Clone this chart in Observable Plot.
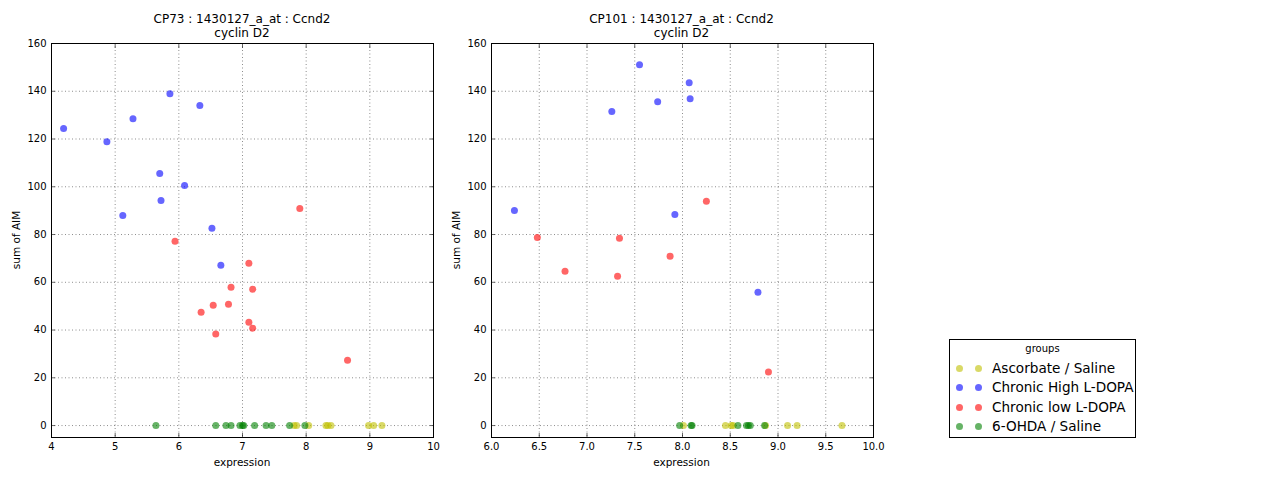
<!DOCTYPE html>
<html><head><meta charset="utf-8">
<script src="https://cdn.jsdelivr.net/npm/d3@7"></script>
<script src="https://cdn.jsdelivr.net/npm/@observablehq/plot@0.6"></script>
<style>
body{margin:0;background:#fff;font-family:"DejaVu Sans",sans-serif;color:#000;}
#root{position:relative;width:1280px;height:480px;overflow:hidden;background:#fff;}
.abs{position:absolute;white-space:nowrap;}
.title{font-size:12px;text-align:center;line-height:14px;width:400px;}
.lab{font-size:10.5px;text-align:center;width:120px;line-height:14px;}
.legend{border:1px solid #000;background:#fff;}
.legend .ttl{font-size:10px;}
.legend .item{font-size:13.6px;line-height:17px;}
.mk{position:absolute;width:7px;height:7px;border-radius:50%;}
</style></head><body><div id="root"></div>
<script>
const groups = ["Ascorbate / Saline", "Chronic High L-DOPA", "Chronic low L-DOPA", "6-OHDA / Saline"];
const groupColors = ["#bfbf00", "#0000ff", "#ff0000", "#008000"];

// CP73 panel
const cp73AscX = [7.81, 7.85, 8.04, 8.31, 8.34, 8.39, 8.98, 9.06, 9.19];
const cp73AscY = [0, 0, 0, 0, 0, 0, 0, 0, 0];
const cp73HighX = [4.19, 4.87, 5.12, 5.28, 5.70, 5.72, 5.86, 6.09, 6.33, 6.52, 6.66];
const cp73HighY = [124.4, 118.9, 88.0, 128.5, 105.6, 94.3, 139.0, 100.5, 134.0, 82.6, 67.1];
const cp73LowX = [5.94, 6.35, 6.54, 6.58, 6.78, 6.82, 7.10, 7.10, 7.16, 7.16, 7.90, 8.65];
const cp73LowY = [77.2, 47.5, 50.4, 38.3, 50.8, 57.9, 68.0, 43.3, 57.1, 40.8, 90.9, 27.4];
const cp73OhdaX = [5.64, 6.58, 6.74, 6.82, 6.96, 7.00, 7.02, 7.19, 7.37, 7.46, 7.74, 7.98];
const cp73OhdaY = [0, 0, 0, 0, 0, 0, 0, 0, 0, 0, 0, 0];

// CP101 panel
const cp101AscX = [8.01, 8.45, 8.51, 8.53, 8.87, 9.10, 9.20, 9.67];
const cp101AscY = [0, 0, 0, 0, 0, 0, 0, 0];
const cp101HighX = [6.24, 7.26, 7.55, 7.74, 7.92, 8.07, 8.08, 8.79];
const cp101HighY = [90.1, 131.5, 151.1, 135.6, 88.4, 143.6, 136.9, 55.8];
const cp101LowX = [6.48, 6.77, 7.32, 7.34, 7.87, 8.25, 8.90];
const cp101LowY = [78.8, 64.6, 62.5, 78.4, 70.9, 93.9, 22.4];
const cp101OhdaX = [7.97, 8.09, 8.10, 8.58, 8.67, 8.69, 8.71, 8.86];
const cp101OhdaY = [0, 0, 0, 0, 0, 0, 0, 0];

const cp73XTicks = [4, 5, 6, 7, 8, 9, 10];
const cp101XTicks = [6.0, 6.5, 7.0, 7.5, 8.0, 8.5, 9.0, 9.5, 10.0];
const yTicks = [0, 20, 40, 60, 80, 100, 120, 140, 160];

function rows(xs, ys, g) { return xs.map((x, i) => ({x, y: ys[i], g})); }

const cp73Rows = [
  ...rows(cp73AscX, cp73AscY, groups[0]),
  ...rows(cp73HighX, cp73HighY, groups[1]),
  ...rows(cp73LowX, cp73LowY, groups[2]),
  ...rows(cp73OhdaX, cp73OhdaY, groups[3])
];
const cp101Rows = [
  ...rows(cp101AscX, cp101AscY, groups[0]),
  ...rows(cp101HighX, cp101HighY, groups[1]),
  ...rows(cp101LowX, cp101LowY, groups[2]),
  ...rows(cp101OhdaX, cp101OhdaY, groups[3])
];

const root = document.getElementById("root");

function panel(data, xDomain, xTicks, xFmt, left) {
  const grid = {stroke: "#000", strokeOpacity: 0.75, strokeWidth: 0.6, strokeDasharray: "1,2.5"};
  const chart = Plot.plot({
    width: 460, height: 480,
    marginLeft: 51, marginRight: 27, marginTop: 43, marginBottom: 43,
    style: {fontFamily: "DejaVu Sans, sans-serif", fontSize: "10px", color: "#000", background: "transparent", overflow: "visible"},
    x: {domain: xDomain, ticks: xTicks, label: null},
    y: {domain: [-5, 160], ticks: yTicks, label: null},
    color: {domain: groups, range: groupColors},
    marks: [
      Plot.gridX(xTicks, grid),
      Plot.gridY(yTicks, grid),
      Plot.dot(data, {x: "x", y: "y", fill: "g", r: 3.5, fillOpacity: 0.6}),
      Plot.axisX(xTicks, {anchor: "bottom", tickSize: 0, tickPadding: 5, tickFormat: xFmt}),
      Plot.axisY(yTicks, {anchor: "left", tickSize: 0, tickPadding: 5}),
      Plot.axisX(xTicks, {anchor: "bottom", tickSize: -4, tickFormat: () => "", strokeWidth: 0.6}),
      Plot.axisX(xTicks, {anchor: "top", tickSize: -4, tickFormat: () => "", strokeWidth: 0.6}),
      Plot.axisY(yTicks, {anchor: "left", tickSize: -4, tickFormat: () => "", strokeWidth: 0.6}),
      Plot.axisY(yTicks, {anchor: "right", tickSize: -4, tickFormat: () => "", strokeWidth: 0.6}),
      Plot.frame({stroke: "#000", strokeWidth: 1})
    ]
  });
  chart.style.position = "absolute";
  chart.style.left = left + "px";
  chart.style.top = "0px";
  root.appendChild(chart);
}

panel(cp73Rows, [4, 10], cp73XTicks, d3.format("d"), 0);
panel(cp101Rows, [6, 10], cp101XTicks, d3.format(".1f"), 440);

function addDiv(cls, text, left, top, extra) {
  const d = document.createElement("div");
  d.className = "abs " + cls;
  d.textContent = text;
  d.style.left = left + "px";
  d.style.top = top + "px";
  if (extra) Object.assign(d.style, extra);
  root.appendChild(d);
  return d;
}

const titles = [["CP73 : 1430127_a_at : Ccnd2", 242], ["CP101 : 1430127_a_at : Ccnd2", 681.5]];
for (const [t, cx] of titles) {
  addDiv("title", t, cx - 200, 12);
  addDiv("title", "cyclin D2", cx - 200, 26);
  addDiv("lab", "expression", cx - 60, 455);
}
for (const cx of [16, 456]) {
  addDiv("lab", "sum of AIM", cx - 60, 233, {transform: "rotate(-90deg)"});
}

// legend
const lg = document.createElement("div");
lg.className = "abs legend";
Object.assign(lg.style, {left: "949px", top: "339px", width: "185px", height: "97px"});
root.appendChild(lg);
const lt = document.createElement("div");
lt.className = "abs ttl";
lt.textContent = "groups";
Object.assign(lt.style, {left: "0px", width: "185px", textAlign: "center", top: "3px"});
lg.appendChild(lt);
groups.forEach((g, i) => {
  const cy = 28 + i * 19.5;
  for (const mx of [9, 28]) {
    const m = document.createElement("div");
    m.className = "mk";
    Object.assign(m.style, {left: (mx - 3.5) + "px", top: (cy - 3.5) + "px", background: groupColors[i], opacity: 0.6});
    lg.appendChild(m);
  }
  const t = document.createElement("div");
  t.className = "abs item";
  t.textContent = g;
  Object.assign(t.style, {left: "42px", top: (cy - 8.5) + "px"});
  lg.appendChild(t);
});
</script>
</body></html>
